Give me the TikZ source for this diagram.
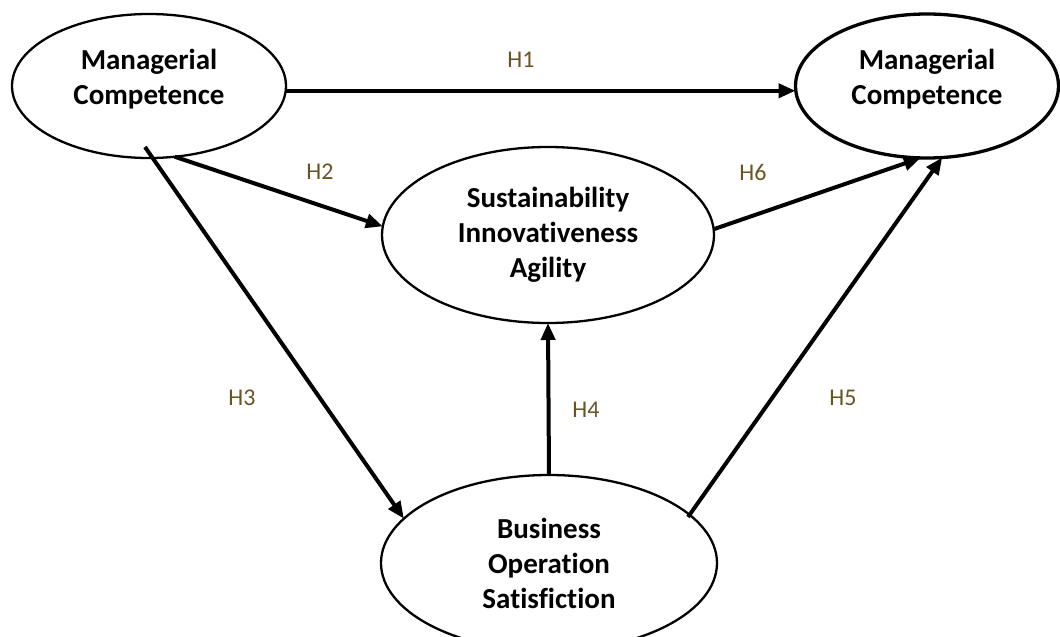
\documentclass[tikz,border=0pt]{standalone}
\usepackage{fontspec}
\setmainfont[Ligatures=NoCommon]{Carlito}
\usetikzlibrary{shapes.geometric,arrows.meta}
\definecolor{hcol}{RGB}{105,85,35}
\tikzset{
  construct/.style={ellipse, draw, line width=2.3pt, inner sep=0pt, outer sep=0pt,
    align=center, font=\fontsize{29}{35}\selectfont\bfseries},
  outcome/.style={construct, line width=3.3pt},
  hyp/.style={line width=4pt, -{Triangle[length=17pt,width=14pt]}},
  hlabel/.style={font=\fontsize{24}{28}\selectfont, text=hcol, inner sep=0pt}
}
\newcommand{\liftup}[1]{\raisebox{6pt}[\height][\depth]{\begin{tabular}{@{}c@{}}#1\end{tabular}}}
\begin{document}
\begin{tikzpicture}[x=1pt,y=-1pt]
\useasboundingbox (0,0) rectangle (1060,637);
\node[construct, minimum width=274pt, minimum height=144pt] (L) at (149,86) {\liftup{Managerial\\Competence}};
\node[outcome, minimum width=263pt, minimum height=144pt] (R) at (927,86) {\liftup{Managerial\\Competence}};
\node[construct, minimum width=332pt, minimum height=176pt] (M) at (548,235) {Sustainability\\Innovativeness\\Agility};
\node[construct, minimum width=336pt, minimum height=176pt] (B) at (549,563) {Business\\Operation\\Satisfiction};
\coordinate (h3s) at (145,147);
\coordinate (h5s) at (688,517);
\draw[hyp] (L.-2) -- (L.-2 -| R.west);
\draw[hyp] (L.-70) -- (M.177);
\draw[hyp] (h3s) -- (B.163);
\draw[hyp] (B.north) -- (M.south);
\draw[hyp] (h5s) -- (R.-78);
\draw[hyp] (M.2) -- (R.-95);
\node[hlabel] (h1) at (521,60) {H1};
\node[hlabel] (h2) at (320,172) {H2};
\node[hlabel] (h3) at (242,398) {H3};
\node[hlabel] (h4) at (586,410) {H4};
\node[hlabel] (h5) at (843,398) {H5};
\node[hlabel] (h6) at (753,172) {H6};
\end{tikzpicture}
\end{document}
